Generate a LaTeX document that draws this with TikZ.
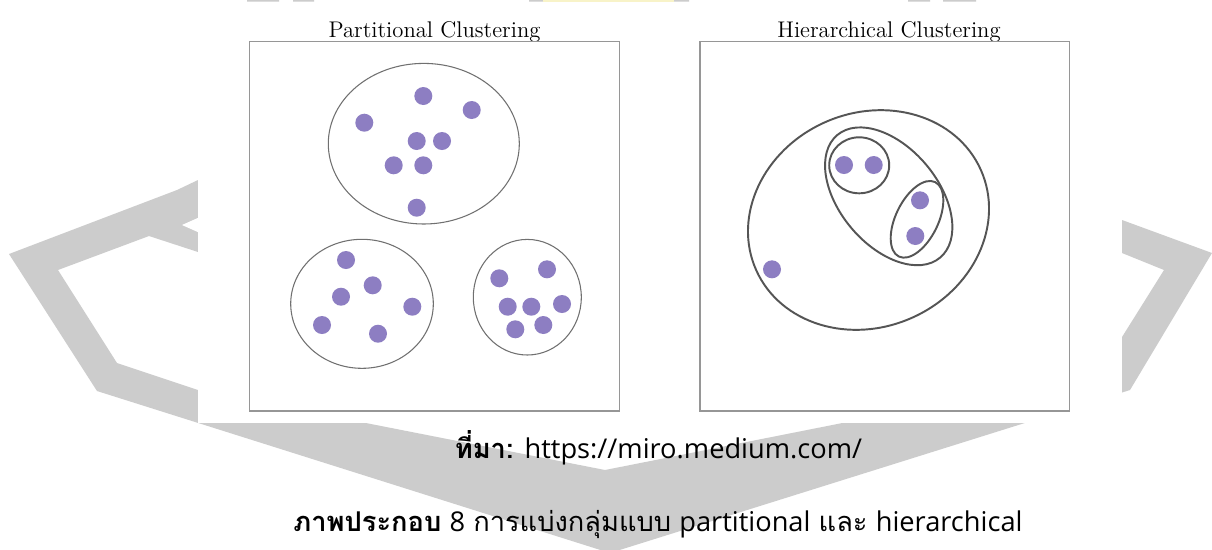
\documentclass[tikz,border=0pt]{standalone}
\usepackage{fontspec}
\newfontfamily\thaifont[Script=Thai]{Loma}
\newfontfamily\latinfont{Open Sans}
\definecolor{dotpurple}{RGB}{141,126,194}
\definecolor{wmgray}{RGB}{204,204,204}
\definecolor{boxgray}{RGB}{150,150,150}
\definecolor{ringgray}{RGB}{112,112,112}
\definecolor{ringdark}{RGB}{85,85,85}
\definecolor{stripyellow}{RGB}{248,243,200}
\begin{document}
\begin{tikzpicture}[x=0.02cm,y=-0.02cm,
  dot/.style={circle,fill=dotpurple,inner sep=0pt,minimum size=0.36cm},
  panel/.style={draw=boxgray,line width=0.75pt},
  ring/.style={draw=ringgray,line width=0.6pt},
  nest/.style={draw=ringdark,line width=1.1pt},
  paneltitle/.style={font=\fontsize{12.9}{14}\selectfont,anchor=base,inner sep=0pt},
  caption/.style={font=\fontsize{15.5}{18}\selectfont,anchor=base,inner sep=0pt}]
\useasboundingbox (0,0) rectangle (1212,549);
\fill[white] (0,0) rectangle (1212,549);

% background emblem
\fill[wmgray] (9,254) -- (177,190) -- (240,160) -- (240,265) -- (198,252)
  -- (149,236) -- (58,270) -- (117,363) -- (198,390) -- (605,470)
  -- (1100,372) -- (1122,337) -- (1164,270) -- (1122,253) -- (1080,238)
  -- (1080,205) -- (1122,220) -- (1212,253) -- (1130,390) -- (610,553)
  -- (97,391) -- cycle;
\fill[white] (182,225) -- (200,217) -- (200,233) -- cycle;
% remnants along the top edge
\fill[wmgray] (247,0) rectangle (279,1.5) (293,0) rectangle (314,1.5)
  (529,0) rectangle (543,1.5) (674,0) rectangle (689,1.5)
  (908,0) rectangle (930,1.5) (943,0) rectangle (976,1.5);
\fill[stripyellow] (543,0) rectangle (674,1.5);
% figure sheet
\fill[white] (198,1.5) rectangle (1122,423);

% panel titles
\node[paneltitle] (tp) at (434.5,37.7) {Partitional Clustering};
\node[paneltitle] (th) at (889,37.7) {Hierarchical Clustering};

% panel frames
\draw[panel] (249.3,41.7) rectangle (619.3,411);
\draw[panel] (700,41.7) rectangle (1069.3,411);

% partitional clusters
\draw[ring] (423.8,143.7) ellipse [x radius=95.5, y radius=80.3];
\draw[ring] (362,303.8) ellipse [x radius=71.3, y radius=64.5];
\draw[ring] (527.3,297.2) ellipse [x radius=54, y radius=57.8];

\node[dot] (a1) at (423.3,96) {};
\node[dot] (a2) at (471.7,110) {};
\node[dot] (a3) at (364.3,122.7) {};
\node[dot] (a4) at (416.7,141) {};
\node[dot] (a5) at (442,141) {};
\node[dot] (a6) at (393.7,165.3) {};
\node[dot] (a7) at (423.3,165.3) {};
\node[dot] (a8) at (416.7,207.7) {};

\node[dot] (b1) at (346,260) {};
\node[dot] (b2) at (372.7,285.3) {};
\node[dot] (b3) at (341,296.7) {};
\node[dot] (b4) at (412.3,306.7) {};
\node[dot] (b5) at (322,325) {};
\node[dot] (b6) at (378,333.7) {};

\node[dot] (c1) at (499.3,278.3) {};
\node[dot] (c2) at (547,269.3) {};
\node[dot] (c3) at (507.7,306.7) {};
\node[dot] (c4) at (531.3,306.7) {};
\node[dot] (c5) at (562,304) {};
\node[dot] (c6) at (515.3,329.3) {};
\node[dot] (c7) at (543.3,325) {};

% hierarchical clusters
\draw[nest] (868.5,220) ellipse [x radius=123, y radius=107, rotate=24];
\draw[nest] (888.7,196.3) ellipse [x radius=80, y radius=49, rotate=-50];
\draw[nest] (859.2,165.3) ellipse [x radius=30, y radius=28];
\draw[nest] (917,219.3) ellipse [x radius=21.2, y radius=41.4, rotate=-26];

\node[dot] (h1) at (844,165) {};
\node[dot] (h2) at (873.7,165) {};
\node[dot] (h3) at (920,200.3) {};
\node[dot] (h4) at (915.3,236) {};
\node[dot] (h5) at (772,269.3) {};

% captions
\node[caption] (src) at (658.5,458)
  {{\thaifont\bfseries ที่มา:} {\latinfont https://miro.medium.com/}};
\node[caption] (cap) at (658,531)
  {{\thaifont\bfseries ภาพประกอบ} {\latinfont 8} {\thaifont การแบ่งกลุ่มแบบ} {\latinfont partitional} {\thaifont และ} {\latinfont hierarchical}};
\end{tikzpicture}
\end{document}
